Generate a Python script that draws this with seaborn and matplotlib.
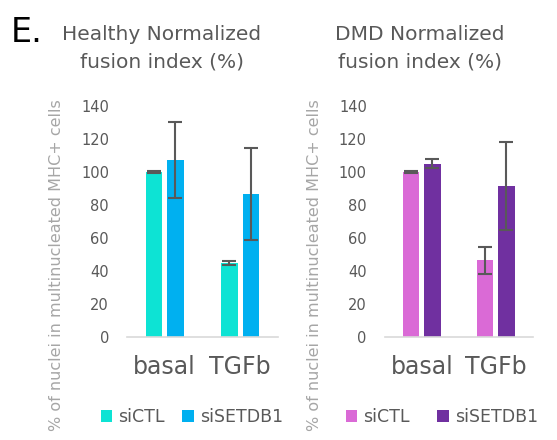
import matplotlib
matplotlib.use("Agg")
import matplotlib.pyplot as plt
import seaborn as sns
import pandas as pd
from matplotlib.patches import Patch

sns.set_theme(style="white")
plt.rcParams["font.family"] = ["DejaVu Sans"]

# Data: normalized fusion index (%), mean and error per condition
conditions = ["basal", "TGFb"]
treatments = ["siCTL", "siSETDB1"]

healthy_ctl = [100.0, 45.0]
healthy_ctl_err = [0.4, 1.2]
healthy_setdb1 = [107.5, 86.5]
healthy_setdb1_err = [23.0, 28.0]

dmd_ctl = [100.0, 46.4]
dmd_ctl_err = [0.4, 8.2]
dmd_setdb1 = [105.0, 91.4]
dmd_setdb1_err = [2.8, 26.7]

healthy_colors = ["#0DE3D4", "#00B0F0"]
dmd_colors = ["#DA6AD6", "#7030A0"]

yticks = [0, 20, 40, 60, 80, 100, 120, 140]

TXT = "#595959"
LIGHT = "#A6A6A6"


def make_frame(ctl, ctl_err, kd, kd_err):
    rows = []
    for c, v, e in zip(conditions, ctl, ctl_err):
        rows.append({"condition": c, "treatment": treatments[0], "value": v, "err": e})
    for c, v, e in zip(conditions, kd, kd_err):
        rows.append({"condition": c, "treatment": treatments[1], "value": v, "err": e})
    return pd.DataFrame(rows)


def draw_panel(ax, df, colors, legend_x, colspace):
    sns.barplot(data=df, x="condition", y="value", hue="treatment",
                order=conditions, hue_order=treatments, palette=colors,
                width=0.57, gap=0.23, errorbar=None, saturation=1,
                edgecolor="none", legend=False, ax=ax)
    # error bars centred on each bar
    for cont, t in zip(ax.containers, treatments):
        sub = df[df["treatment"] == t].set_index("condition").loc[conditions]
        xs = [p.get_x() + p.get_width() / 2 for p in cont.patches]
        ax.errorbar(xs, sub["value"].values, yerr=sub["err"].values, fmt="none",
                    ecolor=TXT, elinewidth=1.5, capsize=5, capthick=1.5, zorder=5)
    ax.set_xlim(-0.5, 1.5)
    ax.set_ylim(0, 140)
    ax.set_yticks(yticks)
    ax.set_yticklabels([str(v) for v in yticks], color=TXT, fontsize=10.5)
    ax.tick_params(axis="y", length=0, pad=13)
    ax.tick_params(axis="x", length=0, pad=13, labelsize=17, labelcolor=TXT)
    ax.set_xlabel("")
    ax.set_ylabel("% of nuclei in multinucleated MHC+ cells", color=LIGHT, fontsize=11.5)
    for s in ["left", "right", "top"]:
        ax.spines[s].set_visible(False)
    ax.spines["bottom"].set_color("#D9D9D9")
    ax.spines["bottom"].set_linewidth(1.2)
    ax.grid(False)
    handles = [Patch(facecolor=c, edgecolor="none") for c in colors]
    ax.legend(handles, treatments, loc="center", bbox_to_anchor=(legend_x, -0.35),
              ncol=2, frameon=False, fontsize=12.5, labelcolor=TXT,
              handlelength=0.65, handleheight=0.65, handletextpad=0.35,
              columnspacing=colspace)


fig = plt.figure(figsize=(5.57, 4.40), dpi=100)
ax1 = fig.add_axes([0.228, 0.2348, 0.271, 0.524])
ax2 = fig.add_axes([0.691, 0.2348, 0.2657, 0.524])

draw_panel(ax1, make_frame(healthy_ctl, healthy_ctl_err, healthy_setdb1, healthy_setdb1_err),
           healthy_colors, 0.43, 1.0)
draw_panel(ax2, make_frame(dmd_ctl, dmd_ctl_err, dmd_setdb1, dmd_setdb1_err),
           dmd_colors, 0.385, 1.6)
ax1.yaxis.set_label_coords(-0.417, 0.31)
ax2.yaxis.set_label_coords(-0.426, 0.31)

fig.text(162 / 557, 1 - 35 / 440, "Healthy Normalized", ha="center", va="center",
         color=TXT, fontsize=14.5)
fig.text(162 / 557, 1 - 62 / 440, "fusion index (%)", ha="center", va="center",
         color=TXT, fontsize=14.5)
fig.text(420 / 557, 1 - 35 / 440, "DMD Normalized", ha="center", va="center",
         color=TXT, fontsize=14.5)
fig.text(420 / 557, 1 - 62 / 440, "fusion index (%)", ha="center", va="center",
         color=TXT, fontsize=14.5)
fig.text(27 / 557, 1 - 33 / 440, "E.", ha="center", va="center",
         color="black", fontsize=24)

fig.savefig("out.png", dpi=100)
